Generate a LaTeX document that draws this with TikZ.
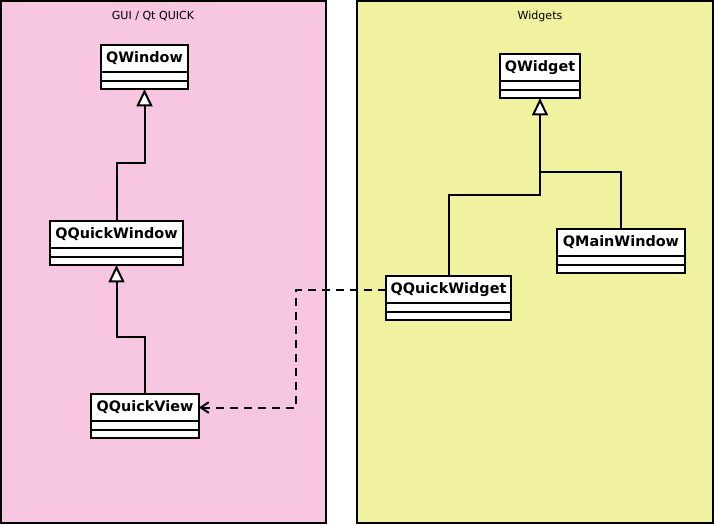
\documentclass[tikz,border=0pt]{standalone}
\usepackage{fontspec}
\setmainfont{DejaVu Sans}
\usetikzlibrary{arrows.meta, positioning}

\definecolor{guipink}{RGB}{247,198,224}
\definecolor{widgetyellow}{RGB}{240,242,160}

\tikzset{
  panel/.style={draw, line width=1.5pt},
  paneltitle/.style={font=\fontsize{8.3}{10}\selectfont, inner sep=0pt},
  classhead/.style={draw, fill=white, line width=1.5pt, inner sep=0pt, outer sep=0pt,
    minimum height=20.25pt, font=\fontsize{10.8}{12}\selectfont\bfseries},
  classpart/.style={draw, fill=white, line width=1.5pt, inner sep=0pt, outer sep=0pt,
    minimum height=6.4pt},
  inherit/.style={draw, line width=1.5pt,
    -{Triangle[fill=white, width=12pt, length=13pt]}},
  depends/.style={draw, line width=1.5pt, dash pattern=on 6pt off 4.5pt,
    -{Straight Barb[length=6pt, width=8pt]}}
}

% class box: name, left, top, width (px), label
\newcommand{\umlclass}[5]{%
  \node[classhead, minimum width=#4*0.75pt, anchor=north west] (#1) at (#2,#3) {#5};
  \node[classpart, minimum width=#4*0.75pt, anchor=north] (#1-attr) at (#1.south) {};
  \node[classpart, minimum width=#4*0.75pt, anchor=north] (#1-ops) at (#1-attr.south) {};
}

\begin{document}
\begin{tikzpicture}[x=0.75pt, y=-0.75pt]
  \useasboundingbox (0,0) rectangle (714,525);

  % the two modules
  \draw[panel, fill=guipink] (1,1) rectangle (326,523);
  \draw[panel, fill=widgetyellow] (357,1) rectangle (713,523);
  \node[paneltitle] (guititle) at (153,16) {GUI / Qt QUICK};
  \node[paneltitle] (widgettitle) at (540,16) {Widgets};

  % classes
  \umlclass{qwindow}{101}{45}{87}{QWindow}
  \umlclass{qquickwindow}{50}{221}{133}{QQuickWindow}
  \umlclass{qquickview}{91}{394}{108}{QQuickView}
  \umlclass{qwidget}{500}{54}{80}{QWidget}
  \umlclass{qmainwindow}{557}{229}{128}{QMainWindow}
  \umlclass{qquickwidget}{386}{276}{125}{QQuickWidget}

  % bends
  \coordinate (bendA) at (0,163);
  \coordinate (bendB) at (0,337);
  \coordinate (bendC) at (0,195);
  \coordinate (bendD) at (0,172);
  \coordinate (bendE) at (296,0);

  % inheritance
  \draw[inherit] (qquickwindow.north) -- (qquickwindow.north |- bendA) -| (qwindow-ops.south);
  \draw[inherit] (qquickview.north) -- (qquickview.north |- bendB) -| (qquickwindow-ops.south);
  \draw[inherit] (qquickwidget.north) -- (qquickwidget.north |- bendC) -| (qwidget-ops.south);
  \draw[line width=1.5pt] (qmainwindow.north) -- (qmainwindow.north |- bendD) -- (qwidget-ops.south |- bendD);

  % usage
  \draw[depends] (qquickwidget.west) -- (bendE |- qquickwidget.west) |- (qquickview.east);
\end{tikzpicture}
\end{document}
